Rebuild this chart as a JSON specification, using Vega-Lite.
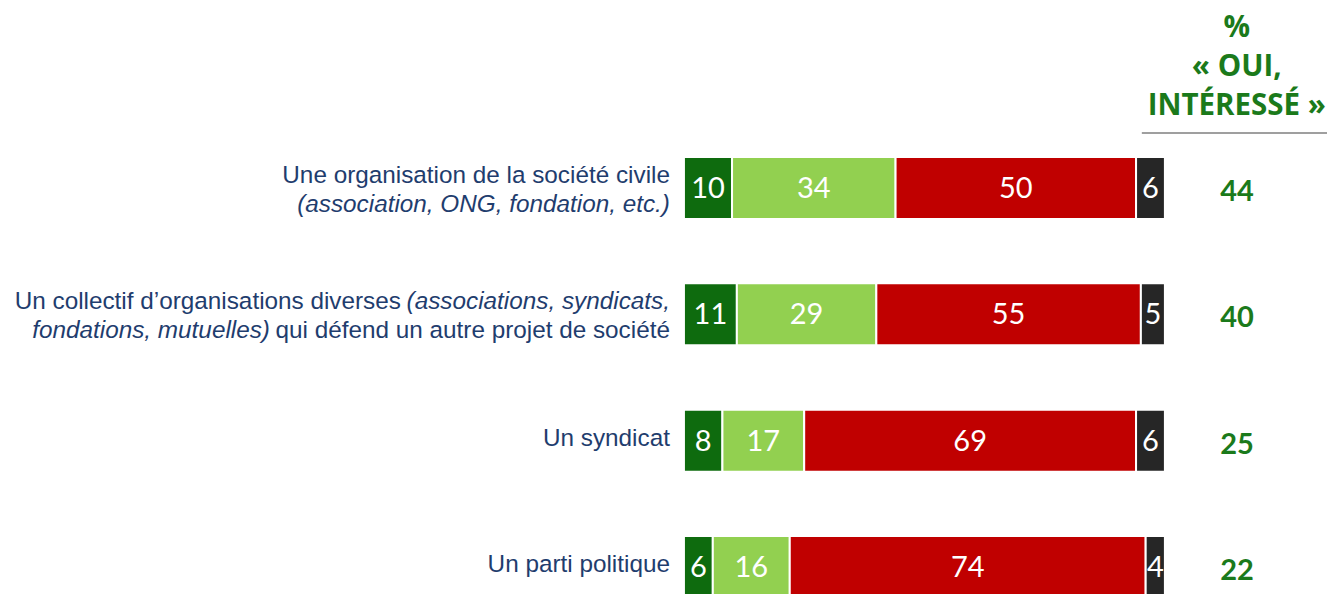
{
  "$schema": "https://vega.github.io/schema/vega-lite/v6.json",
  "width": 1327,
  "height": 489,
  "autosize": {"type": "none"},
  "padding": {"left": 0, "right": 0, "top": 133, "bottom": 0},
  "background": "white",
  "config": {"view": {"stroke": null}},
  "title": {
    "text": ["%", "« OUI,", "INTÉRESSÉ »"],
    "anchor": "end",
    "align": "center",
    "dx": -91,
    "dy": 34,
    "offset": 16,
    "baseline": "bottom",
    "font": "Open Sans",
    "fontSize": 29.5,
    "fontWeight": "bold",
    "color": "#1b7a1b",
    "lineHeight": 39
  },
  "datasets": {
    "bars": [
      {"item": "Organisation", "cat": "Oui, très intéressé", "rank": 1, "value": 10},
      {"item": "Organisation", "cat": "Oui, assez intéressé", "rank": 2, "value": 34},
      {"item": "Organisation", "cat": "Non, pas intéressé", "rank": 3, "value": 50},
      {"item": "Organisation", "cat": "Ne se prononce pas", "rank": 4, "value": 6},
      {"item": "Collectif", "cat": "Oui, très intéressé", "rank": 1, "value": 11},
      {"item": "Collectif", "cat": "Oui, assez intéressé", "rank": 2, "value": 29},
      {"item": "Collectif", "cat": "Non, pas intéressé", "rank": 3, "value": 55},
      {"item": "Collectif", "cat": "Ne se prononce pas", "rank": 4, "value": 5},
      {"item": "Syndicat", "cat": "Oui, très intéressé", "rank": 1, "value": 8},
      {"item": "Syndicat", "cat": "Oui, assez intéressé", "rank": 2, "value": 17},
      {"item": "Syndicat", "cat": "Non, pas intéressé", "rank": 3, "value": 69},
      {"item": "Syndicat", "cat": "Ne se prononce pas", "rank": 4, "value": 6},
      {"item": "Parti", "cat": "Oui, très intéressé", "rank": 1, "value": 6},
      {"item": "Parti", "cat": "Oui, assez intéressé", "rank": 2, "value": 16},
      {"item": "Parti", "cat": "Non, pas intéressé", "rank": 3, "value": 74},
      {"item": "Parti", "cat": "Ne se prononce pas", "rank": 4, "value": 4}
    ],
    "scores": [
      {"item": "Organisation", "oui": 44},
      {"item": "Collectif", "oui": 40},
      {"item": "Syndicat", "oui": 25},
      {"item": "Parti", "oui": 22}
    ],
    "labels": [
      {"item": "Organisation", "line": "1", "seg": "end", "italic": false, "text": "Une organisation de la société civile"},
      {"item": "Organisation", "line": "2", "seg": "end", "italic": true, "text": "(association, ONG, fondation, etc.)"},
      {"item": "Collectif", "line": "1", "seg": "end", "italic": true, "text": "(associations, syndicats,"},
      {"item": "Collectif", "line": "1", "seg": "before", "italic": false, "text": "Un collectif d’organisations diverses"},
      {"item": "Collectif", "line": "2", "seg": "end", "italic": false, "text": "qui défend un autre projet de société"},
      {"item": "Collectif", "line": "2", "seg": "before", "italic": true, "text": "fondations, mutuelles)"},
      {"item": "Syndicat", "line": "single", "seg": "end", "italic": false, "text": "Un syndicat"},
      {"item": "Parti", "line": "single", "seg": "end", "italic": false, "text": "Un parti politique"}
    ],
    "header": [{"from": 95.2, "to": 133.7}]
  },
  "layer": [
    {
      "data": {"name": "bars"},
      "mark": {"type": "bar", "stroke": "white", "strokeWidth": 2},
      "encoding": {
        "y": {"field": "item", "type": "nominal", "sort": ["Organisation", "Collectif", "Syndicat", "Parti"], "axis": null, "scale": {"paddingInner": 0.509, "paddingOuter": 0.19}},
        "x": {"field": "value", "type": "quantitative", "stack": "zero", "axis": null, "scale": {"domain": [-142.2, 133.7], "nice": false, "zero": false}},
        "color": {"field": "cat", "type": "nominal", "legend": null, "scale": {"domain": ["Oui, très intéressé", "Oui, assez intéressé", "Non, pas intéressé", "Ne se prononce pas"], "range": ["#0e6b0e", "#92d050", "#c00000", "#262626"]}},
        "order": {"field": "rank", "type": "quantitative"}
      }
    },
    {
      "data": {"name": "bars"},
      "mark": {"type": "text", "color": "white", "font": "Lato", "fontSize": 29, "baseline": "middle", "dy": 1},
      "encoding": {
        "y": {"field": "item", "type": "nominal", "sort": ["Organisation", "Collectif", "Syndicat", "Parti"], "axis": null},
        "x": {"field": "value", "type": "quantitative", "stack": "zero", "bandPosition": 0.5, "axis": null, "scale": {"domain": [-142.2, 133.7], "nice": false, "zero": false}},
        "detail": {"field": "cat", "type": "nominal"},
        "order": {"field": "rank", "type": "quantitative"},
        "text": {"field": "value", "type": "quantitative"}
      }
    },
    {
      "data": {"name": "scores"},
      "mark": {"type": "text", "color": "#1b7a1b", "font": "Lato", "fontSize": 29, "fontWeight": "bold", "baseline": "middle", "dy": 4},
      "encoding": {
        "y": {"field": "item", "type": "nominal", "sort": ["Organisation", "Collectif", "Syndicat", "Parti"], "axis": null},
        "x": {"datum": 115, "type": "quantitative", "scale": {"domain": [-142.2, 133.7], "nice": false, "zero": false}},
        "text": {"field": "oui", "type": "quantitative"}
      }
    },
    {
      "data": {"name": "header"},
      "mark": {"type": "rule", "color": "#7f7f7f", "strokeWidth": 1.5},
      "encoding": {
        "x": {"field": "from", "type": "quantitative", "scale": {"domain": [-142.2, 133.7], "nice": false, "zero": false}},
        "x2": {"field": "to"},
        "y": {"value": 0}
      }
    },
    {
      "data": {"name": "labels"},
      "transform": [{"filter": "datum.line === 'single'"}],
      "mark": {"type": "text", "align": "right", "baseline": "alphabetic", "dx": -14, "dy": 5, "font": "Liberation Sans", "fontSize": 24.3, "color": "#1f3d6e"},
      "encoding": {
        "y": {"field": "item", "type": "nominal", "sort": ["Organisation", "Collectif", "Syndicat", "Parti"], "axis": null},
        "x": {"datum": 0, "type": "quantitative", "scale": {"domain": [-142.2, 133.7], "nice": false, "zero": false}},
        "text": {"field": "text"}
      }
    },
    {
      "data": {"name": "labels"},
      "transform": [{"filter": "datum.line === '1' && datum.seg === 'end' && !datum.italic"}],
      "mark": {"type": "text", "align": "right", "baseline": "alphabetic", "dx": -14, "dy": -5, "font": "Liberation Sans", "fontSize": 24.3, "color": "#1f3d6e"},
      "encoding": {
        "y": {"field": "item", "type": "nominal", "sort": ["Organisation", "Collectif", "Syndicat", "Parti"], "axis": null},
        "x": {"datum": 0, "type": "quantitative", "scale": {"domain": [-142.2, 133.7], "nice": false, "zero": false}},
        "text": {"field": "text"}
      }
    },
    {
      "data": {"name": "labels"},
      "transform": [{"filter": "datum.line === '1' && datum.seg === 'end' && datum.italic"}],
      "mark": {"type": "text", "align": "right", "baseline": "alphabetic", "dx": -14, "dy": -5, "font": "Liberation Sans", "fontSize": 24.3, "fontStyle": "italic", "color": "#1f3d6e"},
      "encoding": {
        "y": {"field": "item", "type": "nominal", "sort": ["Organisation", "Collectif", "Syndicat", "Parti"], "axis": null},
        "x": {"datum": 0, "type": "quantitative", "scale": {"domain": [-142.2, 133.7], "nice": false, "zero": false}},
        "text": {"field": "text"}
      }
    },
    {
      "data": {"name": "labels"},
      "transform": [{"filter": "datum.line === '1' && datum.seg === 'before'"}],
      "mark": {"type": "text", "align": "right", "baseline": "alphabetic", "dx": -283, "dy": -5, "font": "Liberation Sans", "fontSize": 24.3, "color": "#1f3d6e"},
      "encoding": {
        "y": {"field": "item", "type": "nominal", "sort": ["Organisation", "Collectif", "Syndicat", "Parti"], "axis": null},
        "x": {"datum": 0, "type": "quantitative", "scale": {"domain": [-142.2, 133.7], "nice": false, "zero": false}},
        "text": {"field": "text"}
      }
    },
    {
      "data": {"name": "labels"},
      "transform": [{"filter": "datum.line === '2' && datum.seg === 'end' && datum.italic"}],
      "mark": {"type": "text", "align": "right", "baseline": "alphabetic", "dx": -14, "dy": 24, "font": "Liberation Sans", "fontSize": 24.3, "fontStyle": "italic", "color": "#1f3d6e"},
      "encoding": {
        "y": {"field": "item", "type": "nominal", "sort": ["Organisation", "Collectif", "Syndicat", "Parti"], "axis": null},
        "x": {"datum": 0, "type": "quantitative", "scale": {"domain": [-142.2, 133.7], "nice": false, "zero": false}},
        "text": {"field": "text"}
      }
    },
    {
      "data": {"name": "labels"},
      "transform": [{"filter": "datum.line === '2' && datum.seg === 'end' && !datum.italic"}],
      "mark": {"type": "text", "align": "right", "baseline": "alphabetic", "dx": -14, "dy": 24, "font": "Liberation Sans", "fontSize": 24.3, "color": "#1f3d6e"},
      "encoding": {
        "y": {"field": "item", "type": "nominal", "sort": ["Organisation", "Collectif", "Syndicat", "Parti"], "axis": null},
        "x": {"datum": 0, "type": "quantitative", "scale": {"domain": [-142.2, 133.7], "nice": false, "zero": false}},
        "text": {"field": "text"}
      }
    },
    {
      "data": {"name": "labels"},
      "transform": [{"filter": "datum.line === '2' && datum.seg === 'before'"}],
      "mark": {"type": "text", "align": "right", "baseline": "alphabetic", "dx": -414, "dy": 24, "font": "Liberation Sans", "fontSize": 24.3, "fontStyle": "italic", "color": "#1f3d6e"},
      "encoding": {
        "y": {"field": "item", "type": "nominal", "sort": ["Organisation", "Collectif", "Syndicat", "Parti"], "axis": null},
        "x": {"datum": 0, "type": "quantitative", "scale": {"domain": [-142.2, 133.7], "nice": false, "zero": false}},
        "text": {"field": "text"}
      }
    }
  ]
}
